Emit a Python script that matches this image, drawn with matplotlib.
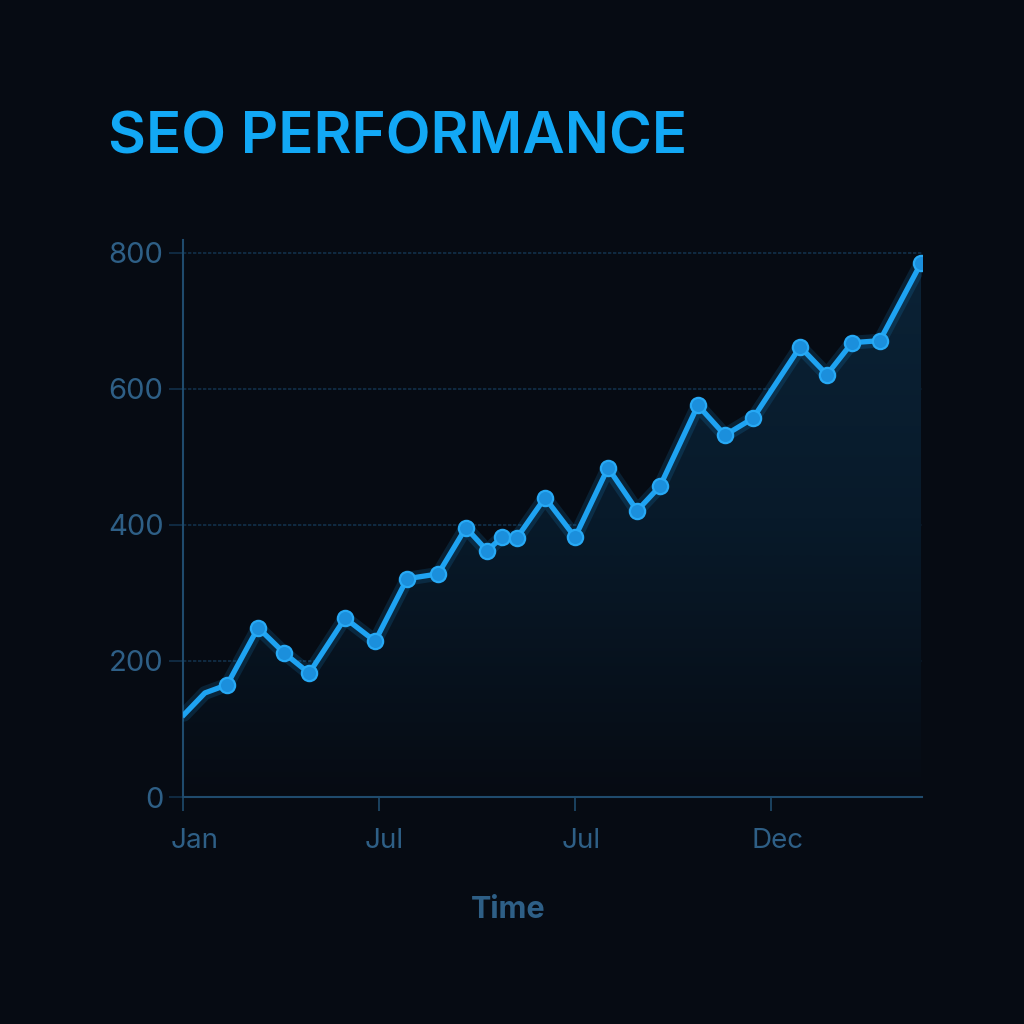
import matplotlib.pyplot as plt
import numpy as np
from matplotlib.patches import Polygon
from matplotlib.colors import LinearSegmentedColormap
from matplotlib.transforms import ScaledTranslation

# x in months from the first Jan, y = SEO score
months = [0.03, 0.67, 1.35, 2.30, 3.09, 3.86, 4.96, 5.88, 6.86, 7.81, 8.66,
          9.31, 9.76, 10.22, 11.08, 12.0, 13.01, 13.90, 14.60, 15.76, 16.59,
          17.45, 18.89, 19.71, 20.48, 21.33, 22.59]
score = [121, 153, 165, 249, 212, 182, 263, 229, 321, 328, 396,
         362, 382, 381, 440, 382, 484, 421, 457, 576, 532,
         557, 662, 621, 668, 671, 785]
tick_pos = [0, 6, 12, 18]
tick_labels = ['Jan', 'Jul', 'Jul', 'Dec']
y_ticks = [0, 200, 400, 600, 800]

bg = '#060b13'
line_c = '#1ea3f2'
text_c = '#2e5f86'
grid_c = '#12304a'

plt.rcParams['font.family'] = ['Inter', 'DejaVu Sans']

fig = plt.figure(figsize=(10.24, 10.24), dpi=100, facecolor=bg)
ax = fig.add_axes([183/1024, 1-797/1024, 739/1024, 557/1024])
ax.set_facecolor(bg)

x_max = 22.62
ax.set_xlim(0, x_max)
ax.set_ylim(0, 819)

# gradient fill under the line
grad = np.linspace(0, 1, 256).reshape(-1, 1)
cmap = LinearSegmentedColormap.from_list('g', [bg, '#081a2a', '#0b2337'])
img = ax.imshow(grad, extent=[0, x_max, 0, 819], origin='lower', aspect='auto',
                cmap=cmap, zorder=1)
verts = [(months[0], 0)] + list(zip(months, score)) + [(months[-1], 0)]
poly = Polygon(verts, closed=True, facecolor='none', edgecolor='none')
ax.add_patch(poly)
img.set_clip_path(poly)

for v in y_ticks[1:]:
    ax.axhline(v, color=grid_c, lw=1.2, ls=(0, (2, 1)), zorder=0.5)

# glow + line
ax.plot(months, score, color=line_c, lw=10, alpha=0.15, zorder=3,
        solid_capstyle='round')
ax.plot(months, score, color=line_c, lw=3.8, zorder=4, solid_joinstyle='round')
ax.plot(months[2:], score[2:], 'o', color='#1b8fdc', markersize=11,
        markeredgecolor='#27a9f5', markeredgewidth=1.6, zorder=5)

for s in ['top', 'right']:
    ax.spines[s].set_visible(False)
ax.spines['left'].set_color('#1f4b6d')
ax.spines['bottom'].set_color('#1f4b6d')
ax.spines['left'].set_linewidth(1.5)
ax.spines['bottom'].set_linewidth(1.5)

ax.set_yticks(y_ticks)
ax.set_yticklabels([str(v) for v in y_ticks])
ax.set_xticks(tick_pos)
ax.set_xticklabels(tick_labels)
ax.tick_params(axis='y', colors=grid_c, length=10, width=1.2, labelcolor=text_c,
               labelsize=21, pad=4)
ax.tick_params(axis='x', colors='#1f4b6d', length=10, width=1.2, labelcolor=text_c,
               labelsize=20, pad=12)
shifts = [12, 5, 6, 6]
for lab, dx in zip(ax.get_xticklabels(), shifts):
    lab.set_horizontalalignment('center')
    lab.set_transform(lab.get_transform() + ScaledTranslation(dx / 100, 0, fig.dpi_scale_trans))
ax.set_xlabel('Time', color=text_c, fontsize=22, fontweight='bold')
ax.xaxis.set_label_coords(0.44, -0.178)

fig.text(108/1024, 1-139/1024, 'SEO PERFORMANCE', color='#12a8f5', fontsize=42,
         fontweight='semibold', va='center', ha='left')

fig.savefig('out.png', dpi=100, facecolor=bg)
